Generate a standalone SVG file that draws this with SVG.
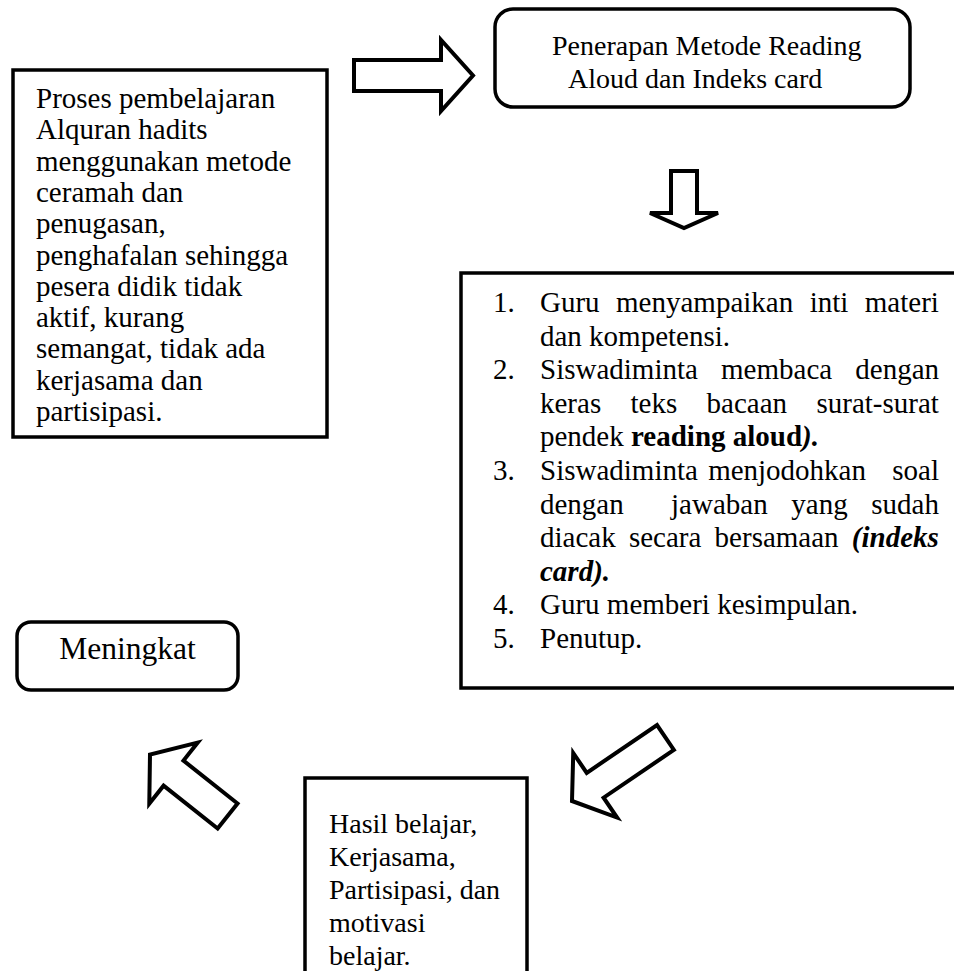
<svg xmlns="http://www.w3.org/2000/svg" width="954" height="971" viewBox="0 0 954 971">
<style>
text{font-family:"Liberation Serif","Times New Roman",serif;fill:#000}
.box{fill:#fff;stroke:#000;stroke-width:3.5}
.arr{fill:#fff;stroke:#000;stroke-width:4;stroke-linejoin:miter}
.t29{font-size:29px}
.t28{font-size:28px}
.b{font-weight:bold}
.bi{font-weight:bold;font-style:italic}
</style>
<rect width="954" height="971" fill="#fff"/>
<g id="connectors">
<polygon class="arr" points="354,60 441,60 441,40 473,75.5 441,111 441,91 354,91"/>
<polygon class="arr" stroke-width="5" points="671,171 697,171 697,213 718,213 684,228 650,213 671,213"/>
<polygon class="arr" transform="translate(572,801) rotate(145.8) translate(-113,0)" points="0,-15 85,-15 85,-39 113,0 85,39 85,15 0,15"/>
<polygon class="arr" transform="translate(150,754.5) rotate(218.4) translate(-99,0)" points="0,-16 69,-16 69,-39 99,0 69,39 69,16 0,16"/>
</g>
<g id="node-proses">
<rect class="box" x="13" y="70" width="314" height="367"/>
<text class="t29" x="36" y="108">Proses pembelajaran</text>
<text class="t29" x="36" y="139.3">Alquran hadits</text>
<text class="t29" x="36" y="170.6">menggunakan metode</text>
<text class="t29" x="36" y="201.9">ceramah dan</text>
<text class="t29" x="36" y="233.2">penugasan,</text>
<text class="t29" x="36" y="264.5">penghafalan sehingga</text>
<text class="t29" x="36" y="295.8">pesera didik tidak</text>
<text class="t29" x="36" y="327.1">aktif, kurang</text>
<text class="t29" x="36" y="358.4">semangat, tidak ada</text>
<text class="t29" x="36" y="389.7">kerjasama dan</text>
<text class="t29" x="36" y="421">partisipasi.</text>
</g>
<g id="node-penerapan">
<rect class="box" x="495" y="9" width="415" height="98" rx="18" ry="18"/>
<text class="t28" x="552" y="55">Penerapan Metode Reading</text>
<text class="t28" x="568" y="88">Aloud dan Indeks card</text>
</g>
<g id="node-langkah">
<rect class="box" x="461" y="273" width="500" height="415"/>
<text class="t29" x="493" y="312">1.</text>
<text class="t29" x="540" y="312" word-spacing="9.2">Guru menyampaikan inti materi</text>
<text class="t29" x="540" y="345.6">dan kompetensi.</text>
<text class="t29" x="493" y="379.2">2.</text>
<text class="t29" x="540" y="379.2" word-spacing="15.9">Siswadiminta membaca dengan</text>
<text class="t29" x="540" y="412.8" word-spacing="22.1">keras teks bacaan surat-surat</text>
<text class="t29" x="540" y="446.4">pendek <tspan class="b">reading aloud</tspan><tspan class="bi">).</tspan></text>
<text class="t29" x="493" y="480">3.</text>
<text class="t29" x="540" y="480" word-spacing="3">Siswadiminta menjodohkan</text>
<text class="t29" x="939" y="480" text-anchor="end">soal</text>
<text class="t29" x="540" y="513.6">dengan</text>
<text class="t29" x="939" y="513.6" text-anchor="end" word-spacing="16.4">jawaban yang sudah</text>
<text class="t29" x="540" y="547.2" word-spacing="6">diacak secara bersamaan <tspan class="bi">(indeks</tspan></text>
<text class="t29" x="540" y="580.8"><tspan class="bi">card).</tspan></text>
<text class="t29" x="493" y="614.4">4.</text>
<text class="t29" x="540" y="614.4">Guru memberi kesimpulan.</text>
<text class="t29" x="493" y="648">5.</text>
<text class="t29" x="540" y="648">Penutup.</text>
</g>
<g id="node-meningkat">
<rect class="box" x="17" y="622" width="221" height="68" rx="14" ry="14"/>
<text x="127.5" y="659" text-anchor="middle" font-size="31.5">Meningkat</text>
</g>
<g id="node-hasil">
<rect class="box" x="305" y="778" width="222" height="200"/>
<text class="t28" x="329" y="833">Hasil belajar,</text>
<text class="t28" x="329" y="866">Kerjasama,</text>
<text class="t28" x="329" y="899">Partisipasi, dan</text>
<text class="t28" x="329" y="932">motivasi</text>
<text class="t28" x="329" y="965">belajar.</text>
</g>
</svg>
